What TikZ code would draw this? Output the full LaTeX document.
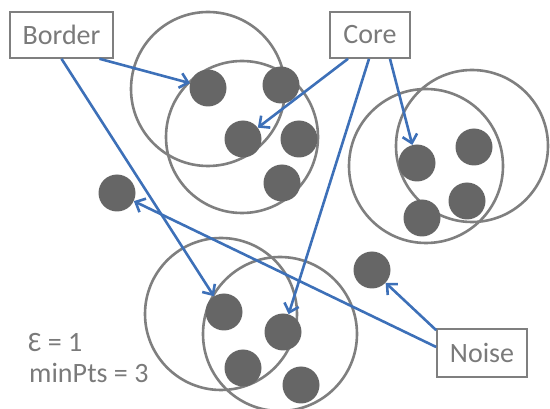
\documentclass[tikz,border=0pt]{standalone}
\usepackage{fontspec}
\setmainfont{Carlito}
\usetikzlibrary{arrows.meta}
\definecolor{ringgray}{HTML}{7F7F7F}
\definecolor{dotgray}{HTML}{666666}
\definecolor{arrowblue}{HTML}{3D70B8}
\definecolor{textgray}{HTML}{7A7A7A}
\tikzset{
  ring/.style={draw=ringgray, line width=2.6pt},
  pt/.style={circle, fill=dotgray, minimum size=37pt, inner sep=0pt},
  labelbox/.style={draw=ringgray, line width=1.6pt, fill=white, text=textgray, inner sep=0pt,
    font=\fontsize{28}{30}\selectfont, minimum height=46pt},
  link/.style={draw=arrowblue, line width=2.6pt, -{Straight Barb[length=8pt,width=15pt,line width=2.6pt]}},
  note/.style={text=textgray, font=\fontsize{28}{30}\selectfont, anchor=west, inner sep=0pt}
}
\begin{document}
\begin{tikzpicture}[x=1pt,y=-1pt]
\useasboundingbox (0,0) rectangle (550,409);
% rings
\draw[ring] (208,89) circle[radius=77pt];
\draw[ring] (242,137) circle[radius=76pt];
\draw[ring] (426,166) circle[radius=77pt];
\draw[ring] (472,146) circle[radius=76pt];
\draw[ring] (221,314) circle[radius=76pt];
\draw[ring] (280,334) circle[radius=77pt];
% points
\node[pt] (a1) at (208,88) {};
\node[pt] (a2) at (281,85) {};
\node[pt] (a3) at (243,139) {};
\node[pt] (a4) at (299,139) {};
\node[pt] (a5) at (282,183) {};
\node[pt] (b1) at (417,163) {};
\node[pt] (b2) at (474,147) {};
\node[pt] (b3) at (467,201) {};
\node[pt] (b4) at (422,218) {};
\node[pt] (c1) at (224,312) {};
\node[pt] (c2) at (283,332) {};
\node[pt] (c3) at (243,368) {};
\node[pt] (c4) at (301,385) {};
\node[pt] (n1) at (117,193) {};
\node[pt] (n2) at (372,270) {};
% labels
\node[labelbox, minimum width=103pt] (border) at (61.5,35) {Border};
\node[labelbox, minimum width=80pt] (core) at (370,35) {Core};
\node[labelbox, minimum width=90pt, minimum height=48pt] (noise) at (482,353) {Noise};
\node[note] (eps) at (28,343) {\symbol{"0190} = 1};
\node[note] (minpts) at (29,373) {minPts = 3};
% arrows
\draw[link] ([xshift=38pt]border.south) -- (a1);
\draw[link] (border.south) -- (c1);
\draw[link] ([xshift=-22pt]core.south) -- (a3);
\draw[link] ([xshift=-1pt]core.south) -- (c2);
\draw[link] ([xshift=20pt]core.south) -- (b1);
\draw[link] ([yshift=6pt]noise.west) -- (n1);
\draw[link] ([yshift=-2pt]noise.north west) -- (n2);
\end{tikzpicture}
\end{document}
